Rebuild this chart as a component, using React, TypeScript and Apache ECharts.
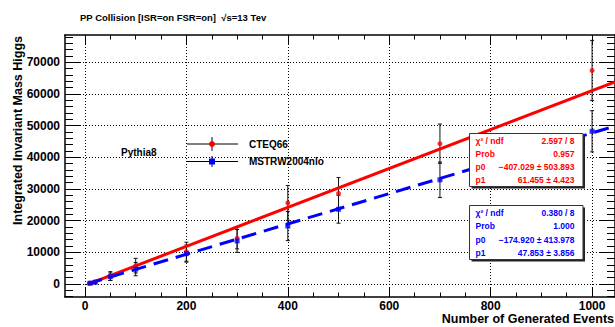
import React, { useEffect, useRef } from "react";
import * as echarts from "echarts";

// ---- data ----
const eventCounts = [10, 20, 50, 100, 200, 300, 400, 500, 700, 1000];
const cteq66Mass = [300, 650, 2500, 5800, 10200, 14500, 25600, 28600, 44300, 67400];
const cteq66Err = [250, 400, 1400, 2300, 3000, 3400, 5500, 5000, 6200, 9500];
const mstrwMass = [250, 550, 2300, 4700, 9600, 13600, 18300, 23600, 32900, 48200];
const mstrwErr = [200, 350, 1200, 2100, 2700, 3600, 4600, 4400, 5600, 6500];

// linear fit parameters (p0, p1) shown in the stat boxes
const cteq66Fit = [-407.029, 61.455];
const mstrwFit = [-174.92, 47.853];
const fitRange = [5, 1045];

const cteq66Stats = [
  ["χ² / ndf", "2.597 / 8"],
  ["Prob", "0.957"],
  ["p0", "−407.029 ± 503.893"],
  ["p1", "61.455 ± 4.423"],
];
const mstrwStats = [
  ["χ² / ndf", "0.380 / 8"],
  ["Prob", "1.000"],
  ["p0", "−174.920 ± 413.978"],
  ["p1", "47.853 ± 3.856"],
];

const xMajorTicks = [0, 200, 400, 600, 800, 1000];
const xMinorTicks = [0, 50, 100, 150, 200, 250, 300, 350, 400, 450, 500, 550, 600, 650, 700, 750, 800, 850, 900, 950, 1000];
const yMajorTicks = [0, 10000, 20000, 30000, 40000, 50000, 60000, 70000];
const yMinorTicks = Array.from({ length: 42 }, (_, i) => -4000 + i * 2000);

const seriesNames = ["CTEQ66", "MSTRW2004nlo"];
const titleText = "PP Collision [ISR=on FSR=on]  √s=13 Tev";
const xTitle = "Number of Generated Events";
const yTitle = "Integrated Invariant Mass Higgs";
const generatorLabel = "Pythia8";

const X_MIN = -39.4;
const X_MAX = 1045.2;
const Y_MIN = -4100;
const Y_MAX = 78600;

const FONT = "'Liberation Sans', Arial, Helvetica, sans-serif";
const RED = "#ff0000";
const BLUE = "#0000ff";
const ZTOP = 100;

function errorBarRender(params: any, api: any) {
  const x = api.value(0);
  const y = api.value(1);
  const e = api.value(2);
  const top = api.coord([x, y + e]);
  const bot = api.coord([x, y - e]);
  const style = { stroke: "#111", lineWidth: 1 };
  const cap = 2;
  return {
    type: "group",
    children: [
      { type: "line", shape: { x1: top[0], y1: top[1], x2: bot[0], y2: bot[1] }, style },
      { type: "line", shape: { x1: top[0] - cap, y1: top[1], x2: top[0] + cap, y2: top[1] }, style },
      { type: "line", shape: { x1: bot[0] - cap, y1: bot[1], x2: bot[0] + cap, y2: bot[1] }, style },
    ],
  };
}

function statBox(left: number, top: number, w: number, h: number, rows: string[][], color: string) {
  const elems: any[] = [
    { type: "rect", z: ZTOP, shape: { x: left + 2, y: top + 2, width: w, height: h }, style: { fill: "#222" } },
    { type: "rect", z: ZTOP + 1, shape: { x: left, y: top, width: w, height: h }, style: { fill: "#fff", stroke: "#333", lineWidth: 1 } },
  ];
  const rowH = h / rows.length;
  rows.forEach((r, i) => {
    const cy = top + rowH * (i + 0.5) + 0.5;
    elems.push({
      type: "text",
      z: ZTOP + 2,
      x: left + 6,
      y: cy,
      style: { text: r[0], fill: color, font: `bold 8.5px ${FONT}`, textAlign: "left", textVerticalAlign: "middle" },
    });
    elems.push({
      type: "text",
      z: ZTOP + 2,
      x: left + w - 8.5,
      y: cy,
      style: { text: r[1], fill: color, font: `bold 8.5px ${FONT}`, textAlign: "right", textVerticalAlign: "middle" },
    });
  });
  return elems;
}

const plainNumber = (v: number) => String(v);

function tickAxisX(position: "top" | "bottom", values: number[], length: number, main: boolean) {
  return {
    type: "value",
    position,
    min: X_MIN,
    max: X_MAX,
    axisLine: { show: main, onZero: false, lineStyle: { color: "#000", width: 1.5 } },
    axisTick: { show: true, inside: true, length, customValues: values, lineStyle: { color: "#000", width: 1 } },
    axisLabel: main && position === "bottom"
      ? { show: true, customValues: xMajorTicks, formatter: plainNumber, margin: 3, color: "#000", fontFamily: FONT, fontWeight: "bold", fontSize: 12 }
      : { show: false },
    splitLine: main && position === "bottom"
      ? { show: true, lineStyle: { color: "#000", width: 1, type: [1, 2] } }
      : { show: false },
  };
}

function tickAxisY(position: "left" | "right", values: number[], length: number, main: boolean) {
  return {
    type: "value",
    position,
    min: Y_MIN,
    max: Y_MAX,
    axisLine: { show: main, onZero: false, lineStyle: { color: "#000", width: 1.5 } },
    axisTick: { show: true, inside: true, length, customValues: values, lineStyle: { color: "#000", width: 1 } },
    axisLabel: main && position === "left"
      ? { show: true, customValues: yMajorTicks, formatter: plainNumber, margin: 5, color: "#000", fontFamily: FONT, fontWeight: "bold", fontSize: 12 }
      : { show: false },
    splitLine: main && position === "left"
      ? { show: true, lineStyle: { color: "#000", width: 1, type: [1, 2] } }
      : { show: false },
  };
}

export default function App() {
  const ref = useRef<HTMLDivElement>(null);

  useEffect(() => {
    if (!ref.current) return;
    const chart = echarts.init(ref.current, undefined, { renderer: "svg" });

    const fitLine = (p: number[]) => fitRange.map((x) => [x, p[0] + p[1] * x]);
    const txt = (x: number, y: number, text: string, size: number, align: string, rotation = 0) => ({
      type: "text",
      z: ZTOP,
      x,
      y,
      rotation,
      style: { text, fill: "#000", font: `bold ${size}px ${FONT}`, textAlign: align, textVerticalAlign: "middle" },
    });
    const seg = (x1: number, y1: number, x2: number, y2: number) => ({
      type: "line",
      z: ZTOP,
      shape: { x1, y1, x2, y2 },
      style: { stroke: "#000", lineWidth: 1 },
    });

    const option: any = {
      animation: false,
      backgroundColor: "#fff",
      grid: { left: 65, top: 35, right: -1, bottom: 30, containLabel: false },
      xAxis: [
        tickAxisX("bottom", xMajorTicks, 9, true),
        tickAxisX("bottom", xMinorTicks, 4.5, false),
        tickAxisX("top", xMajorTicks, 9, true),
        tickAxisX("top", xMinorTicks, 4.5, false),
      ],
      yAxis: [
        tickAxisY("left", yMajorTicks, 16, true),
        tickAxisY("left", yMinorTicks, 8, false),
        tickAxisY("right", yMajorTicks, 16, true),
        tickAxisY("right", yMinorTicks, 8, false),
      ],
      series: [
        {
          type: "custom",
          name: seriesNames[0] + " errors",
          renderItem: errorBarRender,
          data: eventCounts.map((x, i) => [x, cteq66Mass[i], cteq66Err[i]]),
          encode: { x: 0, y: 1 },
          z: 1,
          silent: true,
        },
        {
          type: "custom",
          name: seriesNames[1] + " errors",
          renderItem: errorBarRender,
          data: eventCounts.map((x, i) => [x, mstrwMass[i], mstrwErr[i]]),
          encode: { x: 0, y: 1 },
          z: 1,
          silent: true,
        },
        {
          type: "line",
          name: seriesNames[0] + " fit",
          data: fitLine(cteq66Fit),
          showSymbol: false,
          clip: true,
          lineStyle: { color: RED, width: 3 },
          z: 3,
        },
        {
          type: "line",
          name: seriesNames[1] + " fit",
          data: fitLine(mstrwFit),
          showSymbol: false,
          clip: true,
          lineStyle: { color: BLUE, width: 3, type: [15, 8] },
          z: 3,
        },
        {
          type: "scatter",
          name: seriesNames[0],
          data: eventCounts.map((x, i) => [x, cteq66Mass[i]]),
          symbol: "circle",
          symbolSize: 5,
          itemStyle: { color: RED },
          z: 5,
        },
        {
          type: "scatter",
          name: seriesNames[1],
          data: eventCounts.map((x, i) => [x, mstrwMass[i]]),
          symbol: "rect",
          symbolSize: 5,
          itemStyle: { color: BLUE },
          z: 5,
        },
      ],
      graphic: {
        z: ZTOP,
        elements: [
          txt(80, 17, titleText, 9.5, "left"),
          txt(18, 36, yTitle, 12.5, "right", Math.PI / 2),
          txt(614, 319, xTitle, 12.5, "right"),
          txt(121, 152, generatorLabel, 10, "left"),
          // legend
          seg(187, 144, 238, 144),
          seg(212, 137, 212, 151),
          { type: "circle", z: ZTOP + 1, shape: { cx: 212, cy: 144, r: 3 }, style: { fill: RED } },
          txt(249, 144, seriesNames[0], 10, "left"),
          seg(187, 161.5, 238, 161.5),
          seg(212, 156, 212, 167),
          { type: "rect", z: ZTOP + 1, shape: { x: 209, y: 158.5, width: 6, height: 6 }, style: { fill: BLUE } },
          txt(249, 161.5, seriesNames[1], 10, "left"),
          ...statBox(469.5, 133.5, 113.5, 53, cteq66Stats, RED),
          ...statBox(469.5, 205.5, 113.5, 54, mstrwStats, BLUE),
        ],
      },
    };

    chart.setOption(option);
    return () => chart.dispose();
  }, []);

  return (
    <div
      ref={ref}
      style={{ position: "fixed", left: 0, top: 0, width: 615, height: 327, background: "#fff" }}
    />
  );
}
